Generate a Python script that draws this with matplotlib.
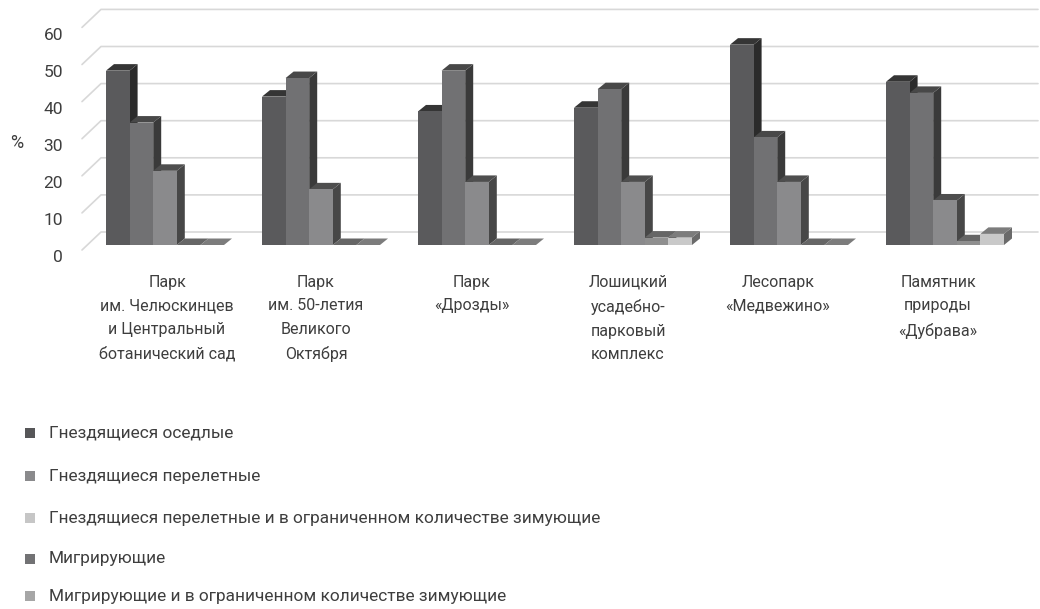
import matplotlib
matplotlib.use('Agg')
import matplotlib.pyplot as plt
from matplotlib.patches import Polygon, Rectangle
from matplotlib.transforms import ScaledTranslation

# ==============================================================================

categories = [
    "Парк\nим. Челюскинцев\nи Центральный\nботанический сад",
    "Парк\nим. 50-летия\nВеликого\nОктября",
    "Парк\n«Дрозды»",
    "Лошицкий\nусадебно-\nпарковый\nкомплекс",
    "Лесопарк\n«Медвежино»",
    "Памятник\nприроды\n«Дубрава»",
]
nesting_resident = [47, 40, 36, 37, 54, 44]
nesting_migrant = [33, 45, 47, 42, 29, 41]
nesting_migrant_winter = [20, 15, 17, 17, 17, 12]
migrating = [0, 0, 0, 2, 0, 1]
migrating_winter = [0, 0, 0, 2, 0, 3]
legend_labels = [
    "Гнездящиеся оседлые",
    "Гнездящиеся перелетные",
    "Гнездящиеся перелетные и в ограниченном количестве зимующие",
    "Мигрирующие",
    "Мигрирующие и в ограниченном количестве зимующие",
]
y_ticks = [0, 10, 20, 30, 40, 50, 60]

series = [nesting_resident, nesting_migrant, nesting_migrant_winter, migrating, migrating_winter]
front_colors = ['#5a5a5c', '#717173', '#8a8a8c', '#8f8f8f', '#c9c9c9']
top_colors = ['#353535', '#484848', '#4e4e4e', '#666666', '#7c7c7c']
side_colors = ['#2b2b2b', '#3a3a3a', '#474747', '#555555', '#6a6a6a']
legend_colors = ['#565658', '#8a8a8c', '#c6c6c6', '#727274', '#a6a6a6']
legend_y = [433, 476, 518, 559, 596]
label_x = [167, 316, 472, 628, 778, 938]

W, H = 1040, 609
TEXT = '#3e3e3e'
plt.rcParams['font.family'] = ['Roboto', 'DejaVu Sans']

fig = plt.figure(figsize=(W / 100, H / 100), dpi=100)

# one x unit is one group of bars, y is in percent
px_x, px_y = 156.0, 3.71
x0_px, y0_px = 106.0, 245.0
ax = fig.add_axes([0, 0, 1, 1])
ax.set_xlim(-x0_px / px_x, (W - x0_px) / px_x)
ax.set_ylim(-(H - y0_px) / px_y, y0_px / px_y)
ax.patch.set_visible(False)
for s in ax.spines.values():
    s.set_visible(False)

bar_w = 23.6 / px_x
dx, dy = 8.0 / px_x, 6.5 / px_y
wall_dx, wall_dy = 19.0 / px_x, 13.0 / px_y
front_drop = 5.0 / px_y

# back wall gridlines with the slanted part on the left
x_start = (82 - x0_px) / px_x
x_end = (1038 - x0_px) / px_x
for v in y_ticks:
    ax.plot([x_start, x_start + wall_dx, x_end], [v - front_drop, v + wall_dy, v + wall_dy],
            color='#d8d8d8', lw=1.2, zorder=1, solid_capstyle='round')

for i in range(len(categories)):
    for j, values in enumerate(series):
        v = values[i]
        x = i + j * bar_w
        ax.add_patch(Polygon([(x + bar_w, 0), (x + bar_w + dx, dy), (x + bar_w + dx, v + dy), (x + bar_w, v)],
                             fc=side_colors[j], ec='none', zorder=2 + j * 0.1))
        ax.add_patch(Polygon([(x, v), (x + dx, v + dy), (x + bar_w + dx, v + dy), (x + bar_w, v)],
                             fc=top_colors[j], ec='none', zorder=2 + j * 0.1))
        ax.add_patch(Rectangle((x, 0), bar_w, v, fc=front_colors[j], ec='none', zorder=3 + j * 0.1))
    ax.text((label_x[i] - x0_px) / px_x, -8.0, categories[i], ha='center', va='top', fontsize=11.5,
            color=TEXT, linespacing=1.72)

ax.set_xticks([])
ax.set_yticks(y_ticks)
ax.tick_params(axis='y', length=0, pad=0, labelsize=12.5, labelcolor=TEXT, direction='in')
shift = ScaledTranslation(63 / 100, -11.5 / 100, fig.dpi_scale_trans)
for lab in ax.get_yticklabels():
    lab.set_transform(lab.get_transform() + shift)
    lab.set_ha('right')

fig.text(17 / W, 1 - 143 / H, "%", ha='center', va='center', fontsize=13, color=TEXT)

for y, c, label in zip(legend_y, legend_colors, legend_labels):
    fig.patches.append(Rectangle((25 / W, 1 - (y + 5) / H), 10 / W, 10 / H, transform=fig.transFigure,
                                 fc=c, ec='none'))
    fig.text(49 / W, 1 - y / H, label, ha='left', va='center', fontsize=12.4, color=TEXT)

fig.savefig('out.png', dpi=100)
